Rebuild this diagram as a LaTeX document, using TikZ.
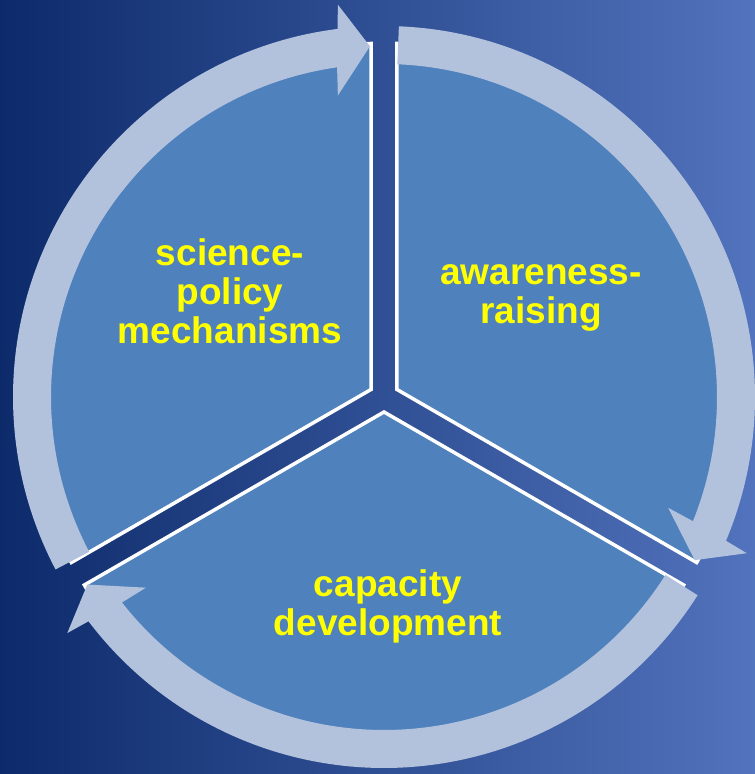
\documentclass[tikz,border=0pt]{standalone}
\usepackage{fontspec}
\setmainfont{Liberation Sans}
\definecolor{bgL}{HTML}{0D2B6B}
\definecolor{bgR}{HTML}{5273BD}
\definecolor{segc}{HTML}{4F81BD}
\definecolor{ringc}{HTML}{B3C2DC}
\definecolor{txtc}{HTML}{FFFF00}
\begin{document}
\begin{tikzpicture}[x=1pt,y=1pt,
  segbox/.style={fill=segc, draw=white, line width=3.5pt, line join=miter},
  ringarrow/.style={fill=ringc},
  txtlabel/.style={text=txtc, font=\fontsize{37}{39}\selectfont\bfseries, align=center, inner sep=0pt}]
\useasboundingbox (0,0) rectangle (755,774);
\shade[left color=bgL, right color=bgR] (0,0) rectangle (755,774);
\coordinate (C) at (384,377);
\begin{scope}[shift={(C)}]
\foreach \b in {150,30,270}{
  \filldraw[segbox] (\b:15) -- ++(\b+60:346) arc[start angle=\b+60, end angle=\b-60, radius=346] -- cycle;
}
\foreach \g in {90,-30,210}{
  \fill[ringarrow] (\g+117.7:371) arc[start angle=\g+117.7, end angle=\g+7.2, radius=371]
    -- (\g+6.7:395) -- (\g+2.3:351) -- (\g+8.7:305) -- (\g+8.1:333)
    arc[start angle=\g+8.1, end angle=\g+117.7, radius=333] -- cycle;
}
\end{scope}
\node[txtlabel] (sci) at (230,483) {science-\\policy\\mechanisms};
\node[txtlabel] (awa) at (541,476) {awareness-\\raising};
\node[txtlabel] (cap) at (388,168) {capacity\\development};
\end{tikzpicture}
\end{document}
